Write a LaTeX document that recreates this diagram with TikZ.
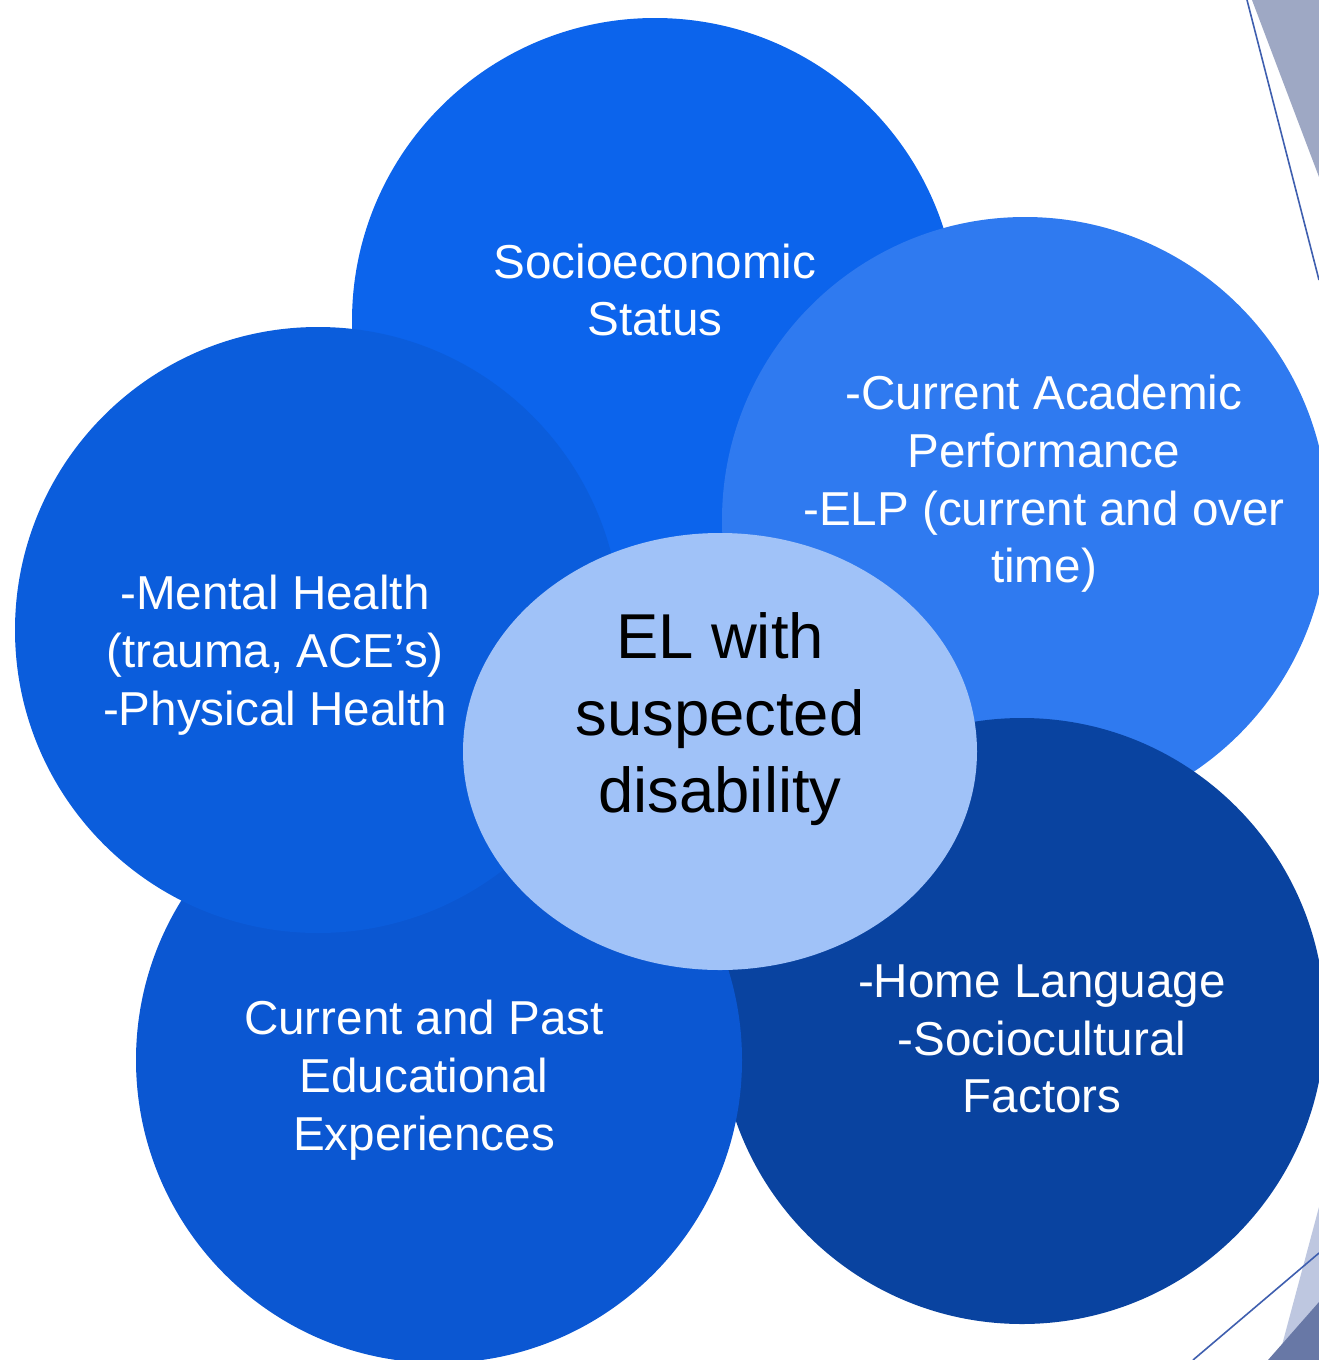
\documentclass[tikz,border=0pt]{standalone}
\usepackage{fontspec}
\setmainfont{Liberation Sans}
\usetikzlibrary{shapes.geometric}
\definecolor{cTop}{RGB}{12,100,236}
\definecolor{cRight}{RGB}{47,122,240}
\definecolor{cBR}{RGB}{9,67,160}
\definecolor{cBL}{RGB}{11,87,210}
\definecolor{cLeft}{RGB}{11,93,220}
\definecolor{cCenter}{RGB}{160,194,248}
\definecolor{decoGrey}{RGB}{158,168,196}
\definecolor{decoLight}{RGB}{190,199,224}
\definecolor{decoDark}{RGB}{104,120,166}
\definecolor{decoLine}{RGB}{63,95,175}
\tikzset{
  petal/.style={circle,draw=none,minimum size=606pt,inner sep=0pt},
  petaltext/.style={text=white,align=center,font=\fontsize{47.6}{57.7}\selectfont,inner sep=0pt},
  hubtext/.style={text=black,align=center,font=\fontsize{63.4}{77}\selectfont,inner sep=0pt},
  decoline/.style={draw=decoLine,line width=1.6pt}
}
\begin{document}
\begin{tikzpicture}[x=1pt,y=-1pt]
\useasboundingbox (0,0) rectangle (1319,1360);
\fill[white] (0,0) rectangle (1319,1360);
% decorations
\fill[decoGrey] (1252,0) -- (1319,0) -- (1319,177) -- cycle;
\coordinate (l1a) at (1247,0);
\coordinate (l1b) at (1319,280);
\draw[decoline] (l1a) -- (l1b);
\fill[decoLight] (1319,1207) -- (1319,1360) -- (1278,1360) -- cycle;
\fill[decoDark] (1319,1302) -- (1319,1360) -- (1268,1360) -- cycle;
\coordinate (l2a) at (1193,1360);
\coordinate (l2b) at (1319,1253);
\draw[decoline] (l2a) -- (l2b);
% petals
\node[petal,fill=cTop] (top) at (655,321) {};
\node[petal,fill=cRight] (right) at (1025,520) {};
\node[petal,fill=cBR] (br) at (1022,1021) {};
\node[petal,fill=cBL] (bl) at (439,1060) {};
\node[petal,fill=cLeft] (left) at (318,630) {};
\node[ellipse,fill=cCenter,minimum width=514pt,minimum height=437pt,inner sep=0pt] (hub) at (720,751.5) {};
% texts
\node[petaltext] (ttop) at (655,290) {Socioeconomic\\Status};
\node[petaltext] (tright) at (1044,484) {-Current Academic\\Performance\\-ELP (current and over\\time)};
\node[petaltext] (tleft) at (275,655) {-Mental Health\\(trauma, ACE’s)\\-Physical Health};
\node[petaltext] (tbl) at (424,1080) {Current and Past\\Educational\\Experiences};
\node[petaltext] (tbr) at (1042,1039) {-Home Language\\-Sociocultural\\Factors};
\node[hubtext] (thub) at (720,719) {EL with\\suspected\\disability};
\end{tikzpicture}
\end{document}
